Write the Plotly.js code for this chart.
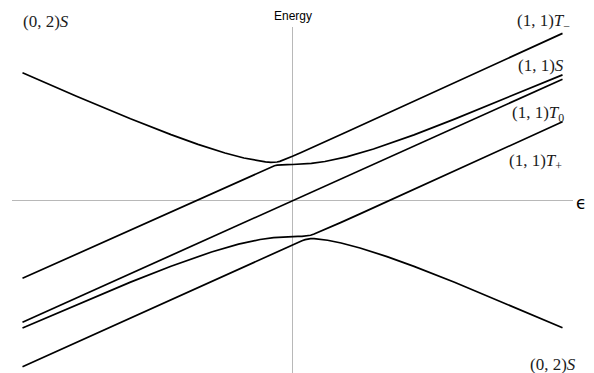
<!DOCTYPE html>
<html>
<head>
<meta charset="utf-8">
<script src="https://cdn.plot.ly/plotly-3.0.1.min.js"></script>
<style>
  html, body { margin: 0; padding: 0; background: #ffffff; }
  #chart { width: 594px; height: 373px; }
</style>
</head>
<body>
<div id="chart"></div>
<script>
// Detuning values (epsilon) and energies, per drawn curve
// Upper curve: (0,2)S coming down from the left, turning into T- after the anticrossing
const upperOuterEps = [-1, -0.8, -0.6, -0.45, -0.35, -0.25, -0.18, -0.13, -0.1, -0.08, -0.067, -0.057, -0.047, -0.035, -0.02, 0, 0.03, 0.07, 0.12, 0.2, 1];
const upperOuterE   = [1.047, 0.855, 0.670, 0.540, 0.460, 0.389, 0.3485, 0.326, 0.3165, 0.3127, 0.3127, 0.3154, 0.3209, 0.3301, 0.3434, 0.3624, 0.3917, 0.4312, 0.481, 0.5608, 1.37];

// Second curve: T- from the left, flattening and then joining (1,1)S
const upperInnerEps = [-1, -0.25, -0.18, -0.13, -0.1, -0.08, -0.067, -0.057, -0.047, -0.035, -0.02, 0, 0.03, 0.07, 0.12, 0.2, 0.3, 0.45, 0.6, 0.8, 1];
const upperInnerE   = [-0.638, 0.1094, 0.1791, 0.2284, 0.2572, 0.2752, 0.2851, 0.2904, 0.2931, 0.2943, 0.2946, 0.2949, 0.2972, 0.3042, 0.3196, 0.3576, 0.422, 0.538, 0.667, 0.848, 1.03];

// T0 straight line
const t0Eps = [-1, 1];
const t0E   = [-0.998, 0.994];

// Fourth curve: (1,1)S from the left, flattening, then turning into T+
const lowerInnerEps = [-1, -0.8, -0.6, -0.45, -0.3, -0.2, -0.12, -0.07, -0.03, 0, 0.02, 0.035, 0.047, 0.057, 0.067, 0.08, 0.1, 0.13, 0.18, 0.25, 1];
const lowerInnerE   = [-1.045, -0.854, -0.669, -0.539, -0.422, -0.3576, -0.3196, -0.3042, -0.2972, -0.2949, -0.2946, -0.2943, -0.2931, -0.2904, -0.2851, -0.2752, -0.2572, -0.2284, -0.1791, -0.1094, 0.645];

// Bottom curve: T+ from the left, turning into (0,2)S going down to the right
const lowerOuterEps = [-1, -0.2, -0.12, -0.07, -0.03, 0, 0.02, 0.035, 0.047, 0.057, 0.067, 0.08, 0.1, 0.13, 0.18, 0.25, 0.35, 0.45, 0.6, 0.8, 1];
const lowerOuterE   = [-1.362, -0.5608, -0.481, -0.4312, -0.3917, -0.3624, -0.3434, -0.3301, -0.3209, -0.3154, -0.3127, -0.3127, -0.3165, -0.326, -0.3485, -0.389, -0.46, -0.54, -0.67, -0.855, -1.043];

// Text labels
const stateLabels = [
  "(0, 2)<i>S</i>",
  "(1, 1)<i>T</i><sub>−</sub>",
  "(1, 1)<i>S</i>",
  "(1, 1)<i>T</i><sub>0</sub>",
  "(1, 1)<i>T</i><sub>+</sub>",
  "(0, 2)<i>S</i>"
];
const axisLabels = ["Energy", "ϵ"];

// ---- layout geometry ----
const X0 = 292.5, XS = 270, Y0 = 200.5, YS = 122;   // pixel position of origin and pixels per unit
const ax = px => (px - X0) / XS;
const ay = py => (Y0 - py) / YS;
const PL = 12, PR = 573, PT = 27, PB = 373;          // plot area in pixels
const paperX = px => (px - PL) / (PR - PL);
const paperY = py => (PB - py) / (PB - PT);

const lineStyle = { color: '#000000', width: 1.7 };
const mk = (x, y) => ({ x: x, y: y, type: 'scatter', mode: 'lines', line: lineStyle, hoverinfo: 'skip', showlegend: false });

const data = [
  mk(upperOuterEps, upperOuterE),
  mk(upperInnerEps, upperInnerE),
  mk(t0Eps, t0E),
  mk(lowerInnerEps, lowerInnerE),
  mk(lowerOuterEps, lowerOuterE)
];

const serif = { family: 'Liberation Serif, DejaVu Serif, serif', size: 17, color: '#1c1c1c' };

const ann = (text, px, py, xanchor, font) => ({
  text: text, x: paperX(px), y: paperY(py), xref: 'paper', yref: 'paper',
  xanchor: xanchor, yanchor: 'middle', showarrow: false, font: font
});

const annotations = [
  ann(stateLabels[0], 21, 22, 'left', serif),
  ann(stateLabels[1], 515, 22.5, 'left', serif),
  ann(stateLabels[2], 566, 65, 'right', serif),
  ann(stateLabels[3], 566, 113.5, 'right', serif),
  ann(stateLabels[4], 564, 161.5, 'right', serif),
  ann(stateLabels[5], 528, 364, 'left', serif),
  ann(axisLabels[0], 292.7, 16, 'center', { family: 'Liberation Sans, Arial, sans-serif', size: 12, color: '#000000' }),
  ann(axisLabels[1], 580.5, 202.5, 'center', { family: 'DejaVu Sans, sans-serif', size: 17, color: '#000000' })
];

const layout = {
  width: 594, height: 373,
  margin: { l: PL, r: 594 - PR, t: PT, b: 373 - PB, pad: 0 },
  paper_bgcolor: '#ffffff', plot_bgcolor: '#ffffff',
  showlegend: false,
  xaxis: {
    range: [ax(PL), ax(PR)], showgrid: false, showticklabels: false, ticks: '',
    zeroline: true, zerolinecolor: '#b8b8b8', zerolinewidth: 1, showline: false, fixedrange: true
  },
  yaxis: {
    range: [ay(PB), ay(PT)], showgrid: false, showticklabels: false, ticks: '',
    zeroline: true, zerolinecolor: '#b8b8b8', zerolinewidth: 1, showline: false, fixedrange: true
  },
  annotations: annotations
};

Plotly.newPlot('chart', data, layout, { staticPlot: true, displayModeBar: false });
</script>
</body>
</html>
